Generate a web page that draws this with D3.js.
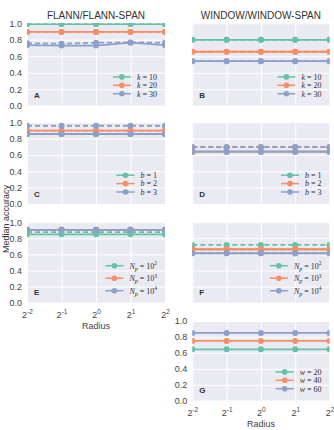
<!DOCTYPE html>
<html>
<head>
<meta charset="utf-8">
<script src="https://cdn.jsdelivr.net/npm/d3@7"></script>
<style>
body{margin:0;background:#fff;}
text{font-family:"Liberation Sans",Arial,sans-serif;}
</style>
</head>
<body>
<div id="chart"></div>
<script>

var width = 334,
	height = 430,
	cols = [[27, 165], [192.3, 329.5]],
	row_tops = [23.3, 122.3, 222.2, 321],
	row_bots = [105.7, 204, 302.7, 400.7];

// data

var radius = [0.25, 0.5, 1, 2, 4];
var radius_exp = ["-2", "-1", "0", "1", "2"];
var yticks = [0, 0.2, 0.4, 0.6, 0.8, 1.0];
var palette = ["#66c2a5", "#fc8d62", "#8da0cb"];

var titles = ["FLANN/FLANN-SPAN", "WINDOW/WINDOW-SPAN"];

var k_labels = ["10", "20", "30"],
	b_labels = ["1", "2", "3"],
	np_labels = ["2", "3", "4"],
	w_labels = ["20", "40", "60"];

// A  (k, flann)
var a_solid = [[0.99, 0.99, 0.99, 0.99, 0.99], [0.895, 0.895, 0.895, 0.895, 0.895], [0.735, 0.73, 0.73, 0.765, 0.735]];
var a_dashed = [[0.99, 0.99, 0.99, 0.99, 0.99], [0.895, 0.895, 0.895, 0.895, 0.895], [0.758, 0.752, 0.765, 0.768, 0.765]];
// B  (k, window)
var b_solid = [[0.80, 0.80, 0.80, 0.80, 0.80], [0.655, 0.655, 0.655, 0.655, 0.655], [0.54, 0.54, 0.54, 0.54, 0.54]];
var b_dashed = [[0.80, 0.80, 0.80, 0.80, 0.80], [0.655, 0.655, 0.655, 0.655, 0.655], [0.54, 0.54, 0.54, 0.54, 0.54]];
// C  (b, flann)
var c_solid = [[0.857, 0.857, 0.857, 0.857, 0.857], [0.897, 0.897, 0.897, 0.897, 0.897], [0.857, 0.857, 0.857, 0.857, 0.857]];
var c_dashed = [[0.857, 0.857, 0.857, 0.857, 0.857], [0.897, 0.897, 0.897, 0.897, 0.897], [0.958, 0.958, 0.958, 0.958, 0.958]];
// D  (b, window)
var d_solid = [[0.64, 0.64, 0.64, 0.64, 0.64], [0.64, 0.64, 0.64, 0.64, 0.64], [0.64, 0.64, 0.64, 0.64, 0.64]];
var d_dashed = [[0.695, 0.695, 0.695, 0.695, 0.695], [0.695, 0.695, 0.695, 0.695, 0.695], [0.695, 0.695, 0.695, 0.695, 0.695]];
// E  (Np, flann)
var e_solid = [[0.85, 0.85, 0.85, 0.85, 0.85], [0.905, 0.905, 0.905, 0.905, 0.905], [0.905, 0.905, 0.905, 0.905, 0.905]];
var e_dashed = [[0.876, 0.876, 0.876, 0.876, 0.876], [0.905, 0.905, 0.905, 0.905, 0.905], [0.905, 0.905, 0.905, 0.905, 0.905]];
// F  (Np, window)
var f_solid = [[0.664, 0.664, 0.664, 0.664, 0.664], [0.664, 0.664, 0.664, 0.664, 0.664], [0.614, 0.614, 0.614, 0.614, 0.614]];
var f_dashed = [[0.718, 0.718, 0.718, 0.718, 0.718], [0.664, 0.664, 0.664, 0.664, 0.664], [0.614, 0.614, 0.614, 0.614, 0.614]];
// G  (w, window)
var g_solid = [[0.645, 0.645, 0.645, 0.645, 0.645], [0.75, 0.75, 0.75, 0.75, 0.75], [0.85, 0.85, 0.85, 0.85, 0.85]];

var panels = [
	{letter: "A", col: 0, row: 0, solid: a_solid, dashed: a_dashed, legend: "k", labels: k_labels, yl: true},
	{letter: "B", col: 1, row: 0, solid: b_solid, dashed: b_dashed, legend: "k", labels: k_labels},
	{letter: "C", col: 0, row: 1, solid: c_solid, dashed: c_dashed, legend: "b", labels: b_labels, yl: true},
	{letter: "D", col: 1, row: 1, solid: d_solid, dashed: d_dashed, legend: "b", labels: b_labels},
	{letter: "E", col: 0, row: 2, solid: e_solid, dashed: e_dashed, legend: "np", labels: np_labels, yl: true, xl: true},
	{letter: "F", col: 1, row: 2, solid: f_solid, dashed: f_dashed, legend: "np", labels: np_labels},
	{letter: "G", col: 1, row: 3, solid: g_solid, dashed: null, legend: "w", labels: w_labels, yl: true, xl: true}
];

var svg = d3.select("#chart").append("svg")
	.attr("width", width)
	.attr("height", height);

// column titles
svg.selectAll(".title").data(titles).enter().append("text")
	.attr("x", function(d, i){ return (cols[i][0] + cols[i][1]) / 2; })
	.attr("y", 19)
	.attr("text-anchor", "middle")
	.style("font-size", "10px")
	.style("fill", "#333")
	.text(function(d){ return d; });

// shared y label
svg.append("text")
	.attr("transform", "translate(8.5,219) rotate(-90)")
	.attr("text-anchor", "middle")
	.style("font-size", "9px")
	.style("fill", "#333")
	.text("Median accuracy");

function legendText(sel, kind, val){
	var serif = "'Liberation Serif','Times New Roman',serif";
	sel.style("font-family", serif).style("font-size", "8px").style("fill", "#333");
	if (kind == "np") {
		sel.append("tspan").style("font-style", "italic").text("N");
		sel.append("tspan").style("font-style", "italic").style("font-size", "6px").attr("dy", 2).text("p");
		sel.append("tspan").attr("dy", -2).text(" = 10");
		sel.append("tspan").style("font-size", "5.5px").attr("dy", -3.5).text(val);
	} else {
		sel.append("tspan").style("font-style", "italic").text(kind);
		sel.append("tspan").text(" = " + val);
	}
}

panels.forEach(function(p){
	var x0 = cols[p.col][0], x1 = cols[p.col][1],
		top = row_tops[p.row], bot = row_bots[p.row];

	var X = d3.scaleLog().base(2).domain([0.25, 4]).range([x0, x1]);
	var Y = d3.scaleLinear().domain([0, 1]).range([bot, top]);

	var g = svg.append("g");
	var cid = "clip" + p.letter;

	g.append("clipPath").attr("id", cid).append("rect")
		.attr("x", x0).attr("y", top).attr("width", x1 - x0).attr("height", bot - top);

	g.append("rect")
		.attr("x", x0).attr("y", top).attr("width", x1 - x0).attr("height", bot - top)
		.style("fill", "#eaeaf2");

	// grid via axes
	var gy = g.append("g").attr("transform", "translate(" + x0 + ",0)")
		.call(d3.axisLeft(Y).tickValues(yticks).tickSize(-(x1 - x0)).tickFormat(d3.format(".1f")));
	var gx = g.append("g").attr("transform", "translate(0," + bot + ")")
		.call(d3.axisBottom(X).tickValues(radius).tickSize(-(bot - top)).tickFormat(""));

	[gx, gy].forEach(function(a){
		a.select(".domain").remove();
		a.selectAll(".tick line").style("stroke", "#fff").style("stroke-width", 1);
	});

	gy.selectAll(".tick text")
		.attr("x", -5).attr("dy", "0.32em")
		.style("font-size", "9px")
		.style("fill", "#444")
		.style("font-family", "'Liberation Sans',Arial,sans-serif")
		.style("display", p.yl ? null : "none");

	if (p.xl) {
		gx.selectAll(".tick text").each(function(d, i){
			var t = d3.select(this).attr("y", 15.5).attr("dy", 0)
				.style("font-size", "9px").style("fill", "#444")
				.style("font-family", "'Liberation Sans',Arial,sans-serif");
			t.append("tspan").text("2");
			t.append("tspan").attr("dy", -4).style("font-size", "6.5px").text(radius_exp[i]);
		});
		g.append("text")
			.attr("x", (x0 + x1) / 2).attr("y", bot + 26.5)
			.attr("text-anchor", "middle")
			.style("font-size", "9px").style("fill", "#444")
			.text("Radius");
	}

	var line = d3.line().x(function(d, i){ return X(radius[i]); }).y(function(d){ return Y(d); });
	var plot = g.append("g").attr("clip-path", "url(#" + cid + ")");

	p.solid.forEach(function(s, j){
		var sets = [{v: s, dash: null}];
		if (p.dashed) sets.push({v: p.dashed[j], dash: "5,3"});
		sets.forEach(function(ss){
			plot.append("path").datum(ss.v)
				.attr("d", line)
				.style("fill", "none")
				.style("stroke", palette[j])
				.style("stroke-width", 1.8)
				.style("stroke-dasharray", ss.dash);
			plot.selectAll(null).data(ss.v).enter().append("circle")
				.attr("cx", function(d, i){ return X(radius[i]); })
				.attr("cy", function(d){ return Y(d); })
				.attr("r", 3)
				.style("fill", palette[j]);
		});
	});

	// panel letter
	g.append("text")
		.attr("x", x0 + 7).attr("y", bot - 7.5)
		.style("font-size", "8px").style("font-weight", "bold").style("fill", "#333")
		.text(p.letter);

	// legend
	var step = p.legend == "np" ? 12.5 : 8.4;
	var lg = g.append("g");
	var items = lg.selectAll("g").data(p.labels).enter().append("g");
	items.each(function(d, j){
		var it = d3.select(this);
		var yy = bot - 12 - (2 - j) * step;
		var t = it.append("text").attr("y", yy + 2.8);
		legendText(t, p.legend, d);
		it.append("line")
			.attr("y1", yy).attr("y2", yy)
			.style("stroke", palette[j]).style("stroke-width", 1.5);
		it.append("circle").attr("cy", yy).attr("r", 2.8)
			.style("fill", palette[j]);
	});
	// align all legend rows to the widest one
	var maxw = d3.max(items.nodes(), function(n){ return d3.select(n).select("text").node().getComputedTextLength(); });
	items.each(function(){
		var it = d3.select(this);
		var tx = x1 - 8 - maxw;
		it.select("text").attr("x", tx);
		it.select("line").attr("x1", tx - 24).attr("x2", tx - 6);
		it.select("circle").attr("cx", tx - 15);
	});
});

</script>
</body>
</html>
